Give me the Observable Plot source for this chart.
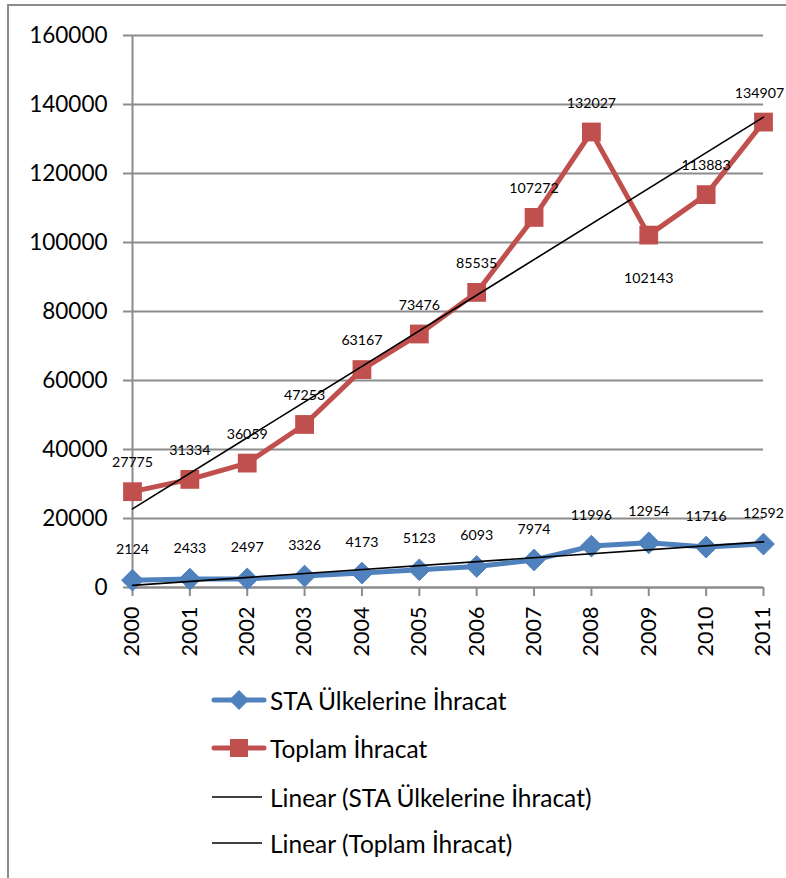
<!DOCTYPE html>
<html><head><meta charset="utf-8">
<script src="https://cdn.jsdelivr.net/npm/d3@7"></script>
<script src="https://cdn.jsdelivr.net/npm/@observablehq/plot@0.6"></script>
<style>
body{margin:0;background:#fff;font-family:Lato,sans-serif}
#wrap{position:relative;width:786px;height:878px;overflow:hidden;background:#fff}
#frame{position:absolute;left:7px;top:4px;width:900px;height:1000px;border:2px solid #8c8c8c}
#chart{position:absolute;left:0;top:0}
.leg{position:absolute;left:211px;height:30px;display:flex;align-items:center;font-size:24.5px;color:#000;white-space:nowrap}
.leg svg{margin-right:3px}
</style></head><body>
<div id="wrap"><div id="frame"></div><div id="chart"></div><div id="legend"></div></div>
<script>
const years = [2000, 2001, 2002, 2003, 2004, 2005, 2006, 2007, 2008, 2009, 2010, 2011];
const staExports = [2124, 2433, 2497, 3326, 4173, 5123, 6093, 7974, 11996, 12954, 11716, 12592];
const totalExports = [27775, 31334, 36059, 47253, 63167, 73476, 85535, 107272, 132027, 102143, 113883, 134907];
const yTicks = [0, 20000, 40000, 60000, 80000, 100000, 120000, 140000, 160000];
const seriesNames = ["STA Ülkelerine İhracat", "Toplam İhracat"];
const trendNames = ["Linear (STA Ülkelerine İhracat)", "Linear (Toplam İhracat)"];
const colors = ["#4F81BD", "#C0504D"];

const sta = years.map((year, i) => ({year, value: staExports[i]}));
const total = years.map((year, i) => ({year, value: totalExports[i]}));
const last = totalExports.length - 1;
const isLocalMin = (arr, i) => i > 0 && i < arr.length - 1 && arr[i] < arr[i - 1] && arr[i] < arr[i + 1];
const totalAbove = total.filter((d, i) => !isLocalMin(totalExports, i) && i !== last);
const totalBelow = total.filter((d, i) => isLocalMin(totalExports, i));
const totalLast = total.filter((d, i) => i === last);

const grey = "#8c8c8c";
const font = "Lato, sans-serif";
const labelSize = 14.2;

const plot = Plot.plot({
  width: 786, height: 672,
  marginLeft: 132, marginRight: 23, marginTop: 35, marginBottom: 85,
  style: {fontFamily: font, background: "transparent", overflow: "visible", color: "#000"},
  x: {type: "linear", domain: [2000, 2011]},
  y: {domain: [0, 160000]},
  marks: [
    Plot.gridY(yTicks, {stroke: grey, strokeOpacity: 1, strokeWidth: 2}),
    Plot.axisY(yTicks, {tickSize: 9, tickPadding: 16, stroke: grey, strokeWidth: 2, fontSize: 22.5, fill: "#000", tickFormat: d => String(d), label: null}),
    Plot.axisX(years, {tickSize: 9, tickPadding: 10, tickRotate: -90, stroke: grey, strokeWidth: 2, fontSize: 21.5, fill: "#000", tickFormat: d => String(d), label: null}),
    Plot.ruleX([2000], {stroke: grey, strokeWidth: 2}),
    Plot.ruleY([0], {stroke: grey, strokeWidth: 2}),
    Plot.line(sta, {x: "year", y: "value", stroke: colors[0], strokeWidth: 5}),
    Plot.dot(sta, {x: "year", y: "value", symbol: "diamond2", r: 9.8, fill: colors[0], stroke: colors[0], strokeWidth: 1}),
    Plot.line(total, {x: "year", y: "value", stroke: colors[1], strokeWidth: 5}),
    Plot.dot(total, {x: "year", y: "value", symbol: "square", r: 10.6, fill: colors[1], stroke: "none"}),
    Plot.linearRegressionY(sta, {x: "year", y: "value", stroke: "#000", strokeWidth: 1.6, ci: 0}),
    Plot.linearRegressionY(total, {x: "year", y: "value", stroke: "#000", strokeWidth: 1.6, ci: 0}),
    Plot.text(sta, {x: "year", y: "value", text: d => String(d.value), dy: -31, fontSize: labelSize, fill: "#000"}),
    Plot.text(totalAbove, {x: "year", y: "value", text: d => String(d.value), dy: -29, fontSize: labelSize, fill: "#000"}),
    Plot.text(totalLast, {x: "year", y: "value", text: d => String(d.value), dy: -29, dx: -4, fontSize: labelSize, fill: "#000"}),
    Plot.text(totalBelow, {x: "year", y: "value", text: d => String(d.value), dy: 43, fontSize: labelSize, fill: "#000"})
  ]
});
document.getElementById("chart").appendChild(plot);

// legend
const legend = document.getElementById("legend");
const rowsTop = [685, 733, 782, 828];
const items = [
  {name: seriesNames[0], color: colors[0], marker: "diamond", width: 5},
  {name: seriesNames[1], color: colors[1], marker: "square", width: 5},
  {name: trendNames[0], color: "#000", marker: null, width: 1.6},
  {name: trendNames[1], color: "#000", marker: null, width: 1.6}
];
items.forEach((it, i) => {
  const row = document.createElement("div");
  row.className = "leg";
  row.style.top = rowsTop[i] + "px";
  let marker = "";
  if (it.marker === "diamond") marker = `<path d="M28,4 L38,14 L28,24 L18,14 Z" fill="${it.color}"/>`;
  if (it.marker === "square") marker = `<rect x="19" y="5" width="18" height="18" fill="${it.color}"/>`;
  const cap = it.marker ? "round" : "butt";
  row.innerHTML = `<svg width="56" height="28" viewBox="0 0 56 28"><line x1="${it.marker ? 3 : 1}" y1="14" x2="${it.marker ? 53 : 51}" y2="14" stroke="${it.color}" stroke-width="${it.width}" stroke-linecap="${cap}"/>${marker}</svg><span>${it.name}</span>`;
  legend.appendChild(row);
});
</script>
</body></html>
